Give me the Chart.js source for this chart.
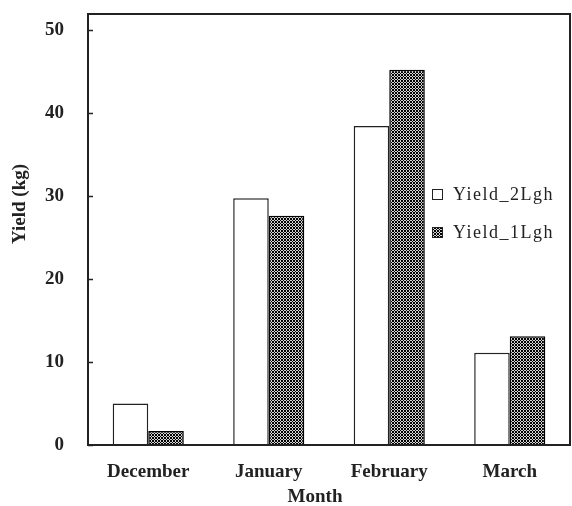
<!DOCTYPE html>
<html>
<head>
<meta charset="utf-8">
<script src="https://cdn.jsdelivr.net/npm/chart.js@4/dist/chart.umd.min.js"></script>
<style>
  html, body { margin: 0; padding: 0; background: #fff; }
  #wrap { width: 572px; height: 506px; }
</style>
</head>
<body>
<div id="wrap"><canvas id="yieldChart"></canvas></div>
<script>
const months = ['December', 'January', 'February', 'March'];
const yield2Lgh = [5.0, 29.7, 38.4, 11.1];
const yield1Lgh = [1.7, 27.6, 45.2, 13.1];
const yTicks = [0, 10, 20, 30, 40, 50];
const xTitle = 'Month';
const yTitle = 'Yield (kg)';

const serif = "'Liberation Serif', 'Times New Roman', serif";
const ink = '#222222';

// 6x6 tile, '#' is black
const tile = [
  '#.##.#',
  '.#..#.',
  '#.##.#',
  '#.##.#',
  '.#..#.',
  '#.##.#'
];

function dotPattern() {
  const c = document.createElement('canvas');
  c.width = 6;
  c.height = 6;
  const g = c.getContext('2d');
  g.fillStyle = '#d4d4d4';
  g.fillRect(0, 0, 6, 6);
  g.fillStyle = '#000';
  tile.forEach((row, y) => {
    [...row].forEach((ch, x) => {
      if (ch === '#') g.fillRect(x, y, 1, 1);
    });
  });
  return g.createPattern(c, 'repeat');
}
const hatch = dotPattern();

// frame, inward ticks, axis titles and the inside legend
const decorations = {
  id: 'decorations',
  afterDraw(chart) {
    const { ctx, chartArea: a, scales } = chart;
    ctx.save();
    ctx.strokeStyle = ink;
    ctx.lineWidth = 2;
    ctx.strokeRect(a.left, a.top, a.right - a.left, a.bottom - a.top);

    ctx.lineWidth = 1.5;
    scales.y.ticks.forEach(t => {
      const y = Math.round(scales.y.getPixelForValue(t.value)) + 0.5;
      ctx.beginPath();
      ctx.moveTo(a.left, y);
      ctx.lineTo(a.left + 5, y);
      ctx.stroke();
    });

    ctx.fillStyle = ink;
    ctx.font = `bold 19px ${serif}`;
    ctx.textAlign = 'center';
    ctx.textBaseline = 'middle';
    ctx.fillText(xTitle, 315, 497);
    ctx.save();
    ctx.translate(20, 204);
    ctx.rotate(-Math.PI / 2);
    ctx.fillText(yTitle, 0, 0);
    ctx.restore();

    ctx.font = `18px ${serif}`;
    ctx.letterSpacing = '1.5px';
    ctx.textAlign = 'left';
    chart.data.datasets.forEach((ds, i) => {
      const cy = 194 + i * 38;
      ctx.fillStyle = ds.backgroundColor;
      ctx.fillRect(432, cy - 5, 10, 10);
      ctx.lineWidth = 1;
      ctx.strokeStyle = ink;
      ctx.strokeRect(432.5, cy - 4.5, 10, 10);
      ctx.fillStyle = ink;
      ctx.fillText(ds.label, 453, cy + 1);
    });
    ctx.restore();
  }
};

new Chart(document.getElementById('yieldChart'), {
  type: 'bar',
  data: {
    labels: months,
    datasets: [
      {
        label: 'Yield_2Lgh',
        data: yield2Lgh,
        backgroundColor: '#ffffff',
        borderColor: ink,
        borderWidth: 1.5,
        barPercentage: 1.0,
        categoryPercentage: 0.59
      },
      {
        label: 'Yield_1Lgh',
        data: yield1Lgh,
        backgroundColor: hatch,
        borderColor: '#000',
        borderWidth: 1.5,
        barPercentage: 1.0,
        categoryPercentage: 0.59
      }
    ]
  },
  options: {
    responsive: true,
    maintainAspectRatio: false,
    animation: false,
    layout: { padding: { top: 14, right: 2, left: 0, bottom: 0 } },
    plugins: {
      legend: { display: false },
      tooltip: { enabled: false }
    },
    scales: {
      x: {
        grid: { display: false, drawTicks: false },
        border: { display: false },
        ticks: {
          color: ink,
          padding: 16,
          font: { family: serif, size: 19, weight: 'bold' }
        },
        afterFit(scale) {
          scale.height = 61;
          scale.paddingLeft = 0;
          scale.paddingRight = 0;
        }
      },
      y: {
        min: 0,
        max: 51.9,
        grid: { display: false, drawTicks: false },
        border: { display: false },
        ticks: {
          color: ink,
          padding: 24,
          stepSize: 10,
          font: { family: serif, size: 19, weight: 'bold' }
        },
        afterBuildTicks(scale) {
          scale.ticks = yTicks.map(v => ({ value: v }));
        },
        afterFit(scale) {
          scale.width = 88;
          scale.paddingTop = 0;
          scale.paddingBottom = 0;
        }
      }
    }
  },
  plugins: [decorations]
});
</script>
</body>
</html>
